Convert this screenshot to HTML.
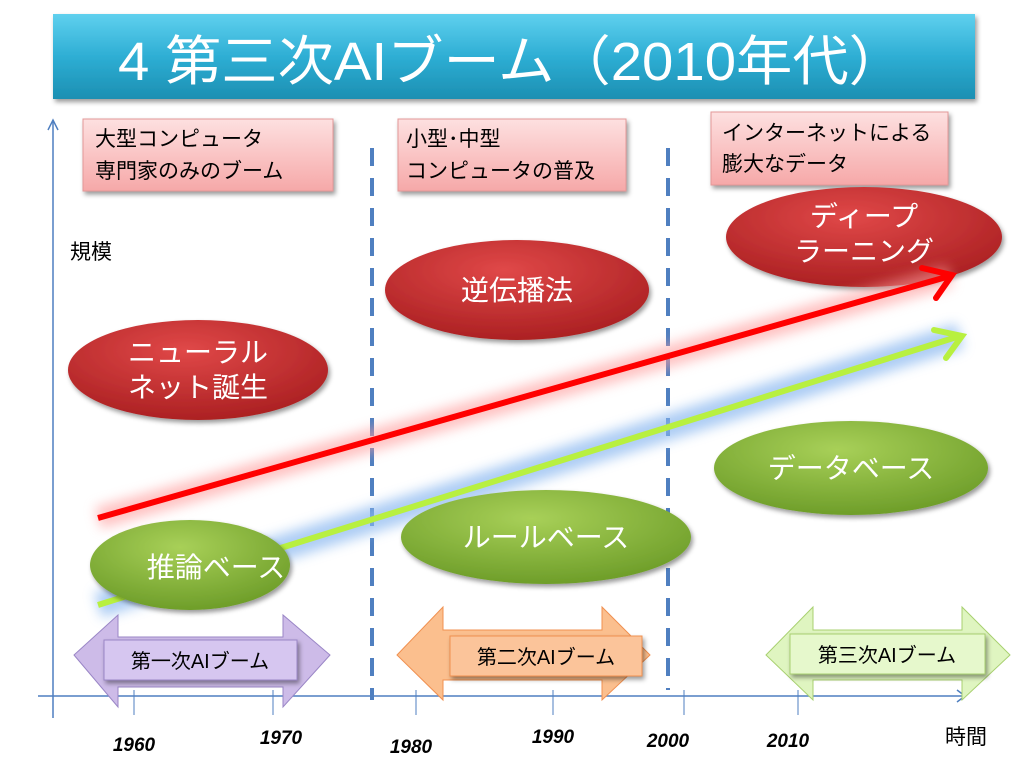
<!DOCTYPE html>
<html><head><meta charset="utf-8">
<style>
html,body{margin:0;padding:0;background:#fff;}
svg{display:block;font-family:"Liberation Sans","Noto Sans CJK JP",sans-serif;}
</style></head>
<body>
<svg width="1024" height="768" viewBox="0 0 1024 768">
<defs>
<linearGradient id="tg" x1="0" y1="0" x2="0" y2="1"><stop offset="0" stop-color="#5fd0ee"/><stop offset="0.5" stop-color="#2eaed4"/><stop offset="1" stop-color="#1b8fb2"/></linearGradient>
<linearGradient id="pk" x1="0" y1="0" x2="0" y2="1"><stop offset="0" stop-color="#fde0e0"/><stop offset="1" stop-color="#f6a8a8"/></linearGradient>
<radialGradient id="rd" cx="0.45" cy="0.3" r="0.75"><stop offset="0" stop-color="#e04848"/><stop offset="1" stop-color="#a81e20"/></radialGradient>
<radialGradient id="gr" cx="0.45" cy="0.3" r="0.75"><stop offset="0" stop-color="#a8d058"/><stop offset="1" stop-color="#6a9a26"/></radialGradient>
<filter id="sh" x="-20%" y="-20%" width="140%" height="150%"><feDropShadow dx="2" dy="3" stdDeviation="2.5" flood-opacity="0.4"/></filter>
<filter id="gl" x="-20%" y="-50%" width="140%" height="200%"><feGaussianBlur stdDeviation="6"/></filter>
</defs>

<g>
<rect x="53" y="14" width="922" height="85" fill="url(#tg)" filter="url(#sh)"/>
<text x="118" y="80" font-size="54" fill="#fff" textLength="787" lengthAdjust="spacingAndGlyphs">4  第三次AIブーム（2010年代）</text>
</g>

<g>
<line x1="53" y1="120" x2="53" y2="718" stroke="#4f7fc0" stroke-width="1.5"/>
<path d="M48,130 L53,120 L58,130" fill="none" stroke="#4f7fc0" stroke-width="1.5"/>
<line x1="38" y1="696" x2="965" y2="696" stroke="#4f7fc0" stroke-width="1.5"/>
<path d="M957,690 L965,696 L957,702" fill="none" stroke="#4f7fc0" stroke-width="1.5"/>
<g stroke="#4f7fc0" stroke-width="1">
<line x1="134" y1="690" x2="134" y2="715"/><line x1="273" y1="690" x2="273" y2="715"/>
<line x1="416" y1="690" x2="416" y2="715"/><line x1="553" y1="690" x2="553" y2="715"/>
<line x1="684" y1="690" x2="684" y2="715"/><line x1="798" y1="690" x2="798" y2="715"/>
</g>
<line x1="372" y1="148" x2="372" y2="700" stroke="#4f7fc0" stroke-width="4" stroke-dasharray="18,12"/>
<line x1="668" y1="148" x2="668" y2="690" stroke="#4f7fc0" stroke-width="4" stroke-dasharray="18,12"/>
</g>

<g font-size="19" font-weight="bold" font-style="italic" fill="#000" text-anchor="middle">
<text x="134" y="751">1960</text><text x="281" y="744">1970</text><text x="411" y="753">1980</text>
<text x="553" y="743">1990</text><text x="668" y="747">2000</text><text x="788" y="747">2010</text>
</g>
<text x="966" y="744" font-size="21" text-anchor="middle">時間</text>
<text x="70" y="259" font-size="21">規模</text>

<g font-size="21" fill="#000">
<g><rect x="83" y="119" width="250" height="72" fill="url(#pk)" stroke="#e49898" filter="url(#sh)"/>
<text x="95" y="146">大型コンピュータ</text><text x="95" y="178">専門家のみのブーム</text></g>
<g><rect x="398" y="119" width="228" height="72" fill="url(#pk)" stroke="#e49898" filter="url(#sh)"/>
<text x="406" y="146">小型･中型</text><text x="406" y="178">コンピュータの普及</text></g>
<g><rect x="711" y="112" width="237" height="73" fill="url(#pk)" stroke="#e49898" filter="url(#sh)"/>
<text x="722" y="140">インターネットによる</text><text x="722" y="171">膨大なデータ</text></g>
</g>

<g>
<line x1="98" y1="605" x2="960" y2="336" stroke="#8ab8f0" stroke-width="26" opacity="0.7" filter="url(#gl)"/>
<line x1="98" y1="605" x2="960" y2="336" stroke="#b8f040" stroke-width="6"/>
<path d="M934,330 L962,336 L946,358" fill="none" stroke="#b8f040" stroke-width="6" stroke-linecap="round"/>
</g>

<g font-size="28" fill="#fff" text-anchor="middle">
<g><ellipse cx="198" cy="370" rx="130" ry="50" fill="url(#rd)" filter="url(#sh)"/>
<text x="198" y="362">ニューラル</text><text x="198" y="397">ネット誕生</text></g>
<g><ellipse cx="517" cy="290" rx="132" ry="50" fill="url(#rd)" filter="url(#sh)"/>
<text x="517" y="300">逆伝播法</text></g>
<g><ellipse cx="864" cy="237" rx="138" ry="50" fill="url(#rd)" filter="url(#sh)"/>
<text x="864" y="226">ディープ</text><text x="864" y="261">ラーニング</text></g>
<g><ellipse cx="190" cy="565" rx="100" ry="45" fill="url(#gr)" filter="url(#sh)"/>
<text x="216" y="577">推論ベース</text></g>
<g><ellipse cx="546" cy="537" rx="145" ry="47" fill="url(#gr)" filter="url(#sh)"/>
<text x="546" y="547">ルールベース</text></g>
<g><ellipse cx="851" cy="468" rx="137" ry="47" fill="url(#gr)" filter="url(#sh)"/>
<text x="851" y="478">データベース</text></g>
</g>

<g>
<line x1="98" y1="518" x2="950" y2="276" stroke="#ff9a9a" stroke-width="22" opacity="0.6" filter="url(#gl)"/>
<line x1="98" y1="518" x2="950" y2="276" stroke="#f00" stroke-width="6"/>
<path d="M922,268 L952,275 L936,298" fill="none" stroke="#f00" stroke-width="6" stroke-linecap="round"/>
</g>

<g font-size="20" fill="#000" text-anchor="middle">
<g>
<path d="M74,655 L118,615 L118,637 L283,637 L283,615 L330,655 L283,707 L283,687 L118,687 L118,707 Z" fill="#cdbbe8" stroke="#9a86c6"/>
<rect x="104" y="640" width="193" height="40" fill="#d6c6f0" stroke="#9a86c6" filter="url(#sh)"/>
<text x="200" y="668">第一次AIブーム</text></g>
<g>
<path d="M397,655 L443,607 L443,630 L602,630 L602,607 L650,655 L602,700 L602,680 L443,680 L443,700 Z" fill="#fbbf8e" stroke="#f09050"/>
<rect x="450" y="636" width="192" height="40" fill="#fbc49a" stroke="#f09050" filter="url(#sh)"/>
<text x="546" y="664">第二次AIブーム</text></g>
<g>
<path d="M766,655 L813,607 L813,630 L962,630 L962,607 L1010,655 L962,700 L962,680 L813,680 L813,700 Z" fill="#dff5c0" stroke="#a8d070"/>
<rect x="790" y="634" width="195" height="40" fill="#e6f8cc" stroke="#a8d070" filter="url(#sh)"/>
<text x="887" y="662">第三次AIブーム</text></g>
</g>
</svg>
</body></html>
